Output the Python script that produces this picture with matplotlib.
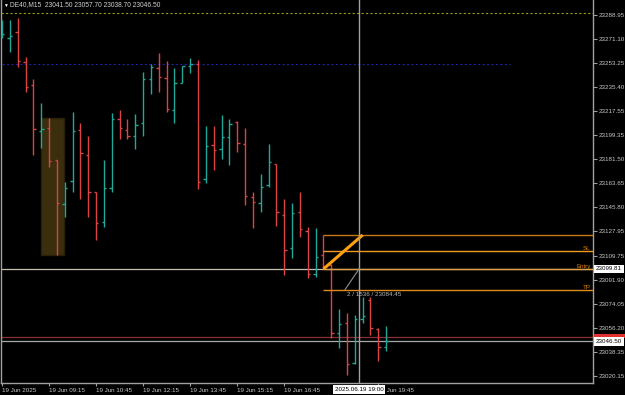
import matplotlib
matplotlib.use("Agg")
import matplotlib.pyplot as plt
from matplotlib.patches import Rectangle

plt.rcParams['font.family'] = ['Liberation Sans', 'DejaVu Sans']

# M15 bars of DE40 (open, high, low, close)
opens = [23273.1, 23271.6, 23276.1, 23253.8, 23236.7, 23202.5, 23204.7, 23180.9, 23148.2, 23165.3,
         23203.2, 23184.6, 23157.1, 23134.8, 23160.1, 23211.4, 23203.2, 23198.7, 23208.4, 23241.1,
         23249.3, 23241.9, 23218.1, 23238.2, 23250.8, 23252.3, 23166.8, 23192.0, 23189.1, 23198.0,
         23209.1, 23192.8, 23153.4, 23148.9, 23162.3, 23177.9, 23140.0, 23115.4, 23142.2, 23128.1,
         23096.1, 23110.2, 23102.8, 23052.2, 23059.6, 23029.9, 23062.6, 23076.8, 23055.2, 23041.5]
highs = [23285.0, 23285.0, 23286.5, 23257.5, 23241.1, 23223.3, 23212.1, 23180.9, 23164.5, 23216.6,
         23208.4, 23198.7, 23157.1, 23180.9, 23215.8, 23218.1, 23211.4, 23215.1, 23246.3, 23252.3,
         23260.5, 23254.5, 23249.3, 23250.8, 23256.7, 23255.3, 23206.2, 23206.2, 23214.4, 23211.4,
         23209.9, 23204.7, 23157.1, 23170.5, 23192.8, 23177.9, 23151.9, 23148.9, 23157.1, 23131.0,
         23130.3, 23125.1, 23103.5, 23070.1, 23067.1, 23065.6, 23079.0, 23079.0, 23055.9, 23057.7]
lows = [23271.6, 23261.2, 23250.1, 23231.5, 23184.6, 23189.8, 23175.7, 23110.2, 23138.5, 23157.1,
        23151.9, 23138.5, 23121.4, 23131.0, 23157.1, 23196.5, 23196.5, 23189.1, 23198.7, 23230.0,
        23231.5, 23216.6, 23208.4, 23238.2, 23245.6, 23159.3, 23163.8, 23173.4, 23181.6, 23177.2,
        23186.8, 23147.4, 23130.3, 23142.2, 23160.8, 23131.8, 23095.3, 23108.0, 23123.6, 23093.1,
        23093.9, 23099.8, 23048.5, 23041.1, 23021.0, 23029.2, 23059.6, 23050.7, 23031.4, 23038.7]
closes = [23274.6, 23273.1, 23254.5, 23235.2, 23203.9, 23203.9, 23180.1, 23148.9, 23160.1, 23202.5,
          23186.1, 23157.1, 23134.0, 23160.1, 23211.4, 23204.7, 23198.7, 23206.9, 23241.1, 23250.1,
          23242.6, 23218.8, 23238.2, 23250.8, 23252.3, 23164.5, 23191.3, 23188.3, 23198.0, 23207.7,
          23193.5, 23154.1, 23149.6, 23160.8, 23179.4, 23142.2, 23113.9, 23141.5, 23129.6, 23096.1,
          23108.7, 23102.0, 23052.2, 23058.9, 23029.2, 23062.6, 23064.9, 23055.9, 23041.8, 23046.5]

price_ticks = [23288.95, 23271.10, 23253.25, 23235.40, 23217.55, 23199.35, 23181.50, 23163.65,
               23145.80, 23127.95, 23109.75, 23091.90, 23074.05, 23056.20, 23038.35, 23020.15]
time_ticks = [0, 6, 12, 18, 24, 30, 36, 48]
time_labels = ['19 Jun 2025', '19 Jun 09:15', '19 Jun 10:45', '19 Jun 12:15', '19 Jun 13:45',
               '19 Jun 15:15', '19 Jun 16:45', '19 Jun 19:45']

# trade levels and other objects
entry_price = 23099.81
sl_price = 23113.2
tp_price = 23084.45
box_top = 23125.1
trade_start = 41
trade_end = 46
cursor_bar = 45.54
measure_bar = 43.75
blue_level = 23252.3
blue_end = 64.8
high_level = 23289.9
bid = 23046.50
ask = 23049.50
zone_x = (4.97, 7.9)
zone_y = (23110.2, 23212.1)

bull = '#20a898'
bear = '#dc4444'
fs = 4.5

fig = plt.figure(figsize=(6.25, 3.95), dpi=100, facecolor='black')
ax = fig.add_axes([1.5 / 625, 12 / 395, 591.5 / 625, 383 / 395])
ax.set_facecolor('black')
ax.set_xlim(-0.064, 75.38)
ax.set_ylim(23015.02, 23299.88)

# highlighted zone
ax.add_patch(Rectangle((zone_x[0], zone_y[0]), zone_x[1] - zone_x[0], zone_y[1] - zone_y[0],
                       facecolor='#3a2e0e', edgecolor='#2a2108', lw=1, zorder=1))

# reference lines
ax.axhline(high_level, color='#9a9a20', lw=0.8, ls=(0, (2, 2)), zorder=1)
ax.hlines(blue_level, 0, blue_end, color='#2020a0', lw=0.8, ls=(0, (2, 2)), zorder=1)
ax.axhline(ask, color='#8a3030', lw=0.9, zorder=1)
ax.axhline(bid, color='#a8a8a8', lw=0.9, zorder=1)
ax.axhline(entry_price, color='#c8c0b0', lw=0.9, zorder=1)
ax.axvline(cursor_bar, color='#a0a0a0', lw=1, zorder=5)

# OHLC bars
tick = 0.3
for i in range(len(opens)):
    c = bull if closes[i] >= opens[i] else bear
    ax.vlines(i, lows[i], highs[i], color=c, lw=1.0, zorder=3)
    ax.hlines(opens[i], i - tick, i, color=c, lw=1.0, zorder=3)
    ax.hlines(closes[i], i, i + tick, color=c, lw=1.0, zorder=3)

# trade tool
xr = 75.38
ax.hlines(box_top, trade_start, xr, color='#c87810', lw=1.0, zorder=4)
ax.hlines(sl_price, trade_start, xr, color='#f09a20', lw=1.0, zorder=4)
ax.hlines(entry_price, trade_start, xr, color='#e0a040', lw=1.0, zorder=4)
ax.hlines(tp_price, trade_start, xr, color='#e08a18', lw=1.0, zorder=4)
ax.plot([trade_start, trade_end], [entry_price, box_top], color='#ffa010', lw=2.2,
        solid_capstyle='butt', zorder=4)
ax.text(xr - 0.3, sl_price, 'SL', color='#e08000', fontsize=fs, ha='right', va='bottom', zorder=6)
ax.text(xr - 0.3, entry_price, 'Entry', color='#e08000', fontsize=fs, ha='right', va='bottom', zorder=6)
ax.text(xr - 0.3, tp_price, 'TP', color='#e08000', fontsize=fs, ha='right', va='bottom', zorder=6)

# crosshair measure
ax.plot([measure_bar, cursor_bar], [tp_price, entry_price], color='#909090', lw=0.8, zorder=5)
ax.text(measure_bar + 0.2, tp_price - 1.5, '2 / 1536 / 23084.45', color='#b8b8b8',
        fontsize=fs, ha='left', va='top', zorder=6)

# axes styling
for s in ['left', 'bottom', 'right']:
    ax.spines[s].set_color('#a0a0a0')
    ax.spines[s].set_linewidth(1)
ax.spines['top'].set_visible(False)
ax.yaxis.tick_right()
ax.set_yticks(price_ticks)
ax.set_yticklabels([f'{p:.2f}' for p in price_ticks])
ax.set_xticks(time_ticks)
ax.set_xticklabels(time_labels)
for lbl in ax.get_xticklabels():
    lbl.set_ha('left')
ax.tick_params(axis='y', colors='#a0a0a0', labelcolor='#c8c8c8', labelsize=fs, length=3, pad=1)
ax.tick_params(axis='x', colors='#a0a0a0', labelcolor='#c8c8c8', labelsize=fs, length=2, pad=1.5)

# title
fig.text(3 / 625, 1 - 5 / 395, '\u25bc', color='white', fontsize=3.5, va='center', ha='left')
fig.text(10 / 625, 1 - 5 / 395, 'DE40,M15  23041.50 23057.70 23038.70 23046.50',
         color='#d0d0d0', fontsize=4.8, va='center', ha='left')

# price and time labels on the scales
def py(p):
    return 12 / 395 + (p - 23015.02) / (23299.88 - 23015.02) * 383 / 395

fig.patches.append(Rectangle((594 / 625, py(ask) - 1 / 395), 31 / 625, 4 / 395,
                             transform=fig.transFigure, facecolor='#e03030', edgecolor='none'))
fig.text(596 / 625, py(bid) - 1 / 395, '23046.50', color='black', fontsize=fs, ha='left', va='center',
         bbox=dict(boxstyle='square,pad=0.3', fc='white', ec='none'), zorder=6)
fig.text(596 / 625, py(entry_price), '23099.81', color='black', fontsize=fs, ha='left', va='center',
         bbox=dict(boxstyle='square,pad=0.3', fc='white', ec='none'), zorder=6)
fig.text(359 / 625, 5.5 / 395, '2025.06.19 19:00', color='black', fontsize=fs, ha='center', va='center',
         bbox=dict(boxstyle='square,pad=0.3', fc='white', ec='none'), zorder=6)

fig.savefig('out.png', dpi=100, facecolor='black')
